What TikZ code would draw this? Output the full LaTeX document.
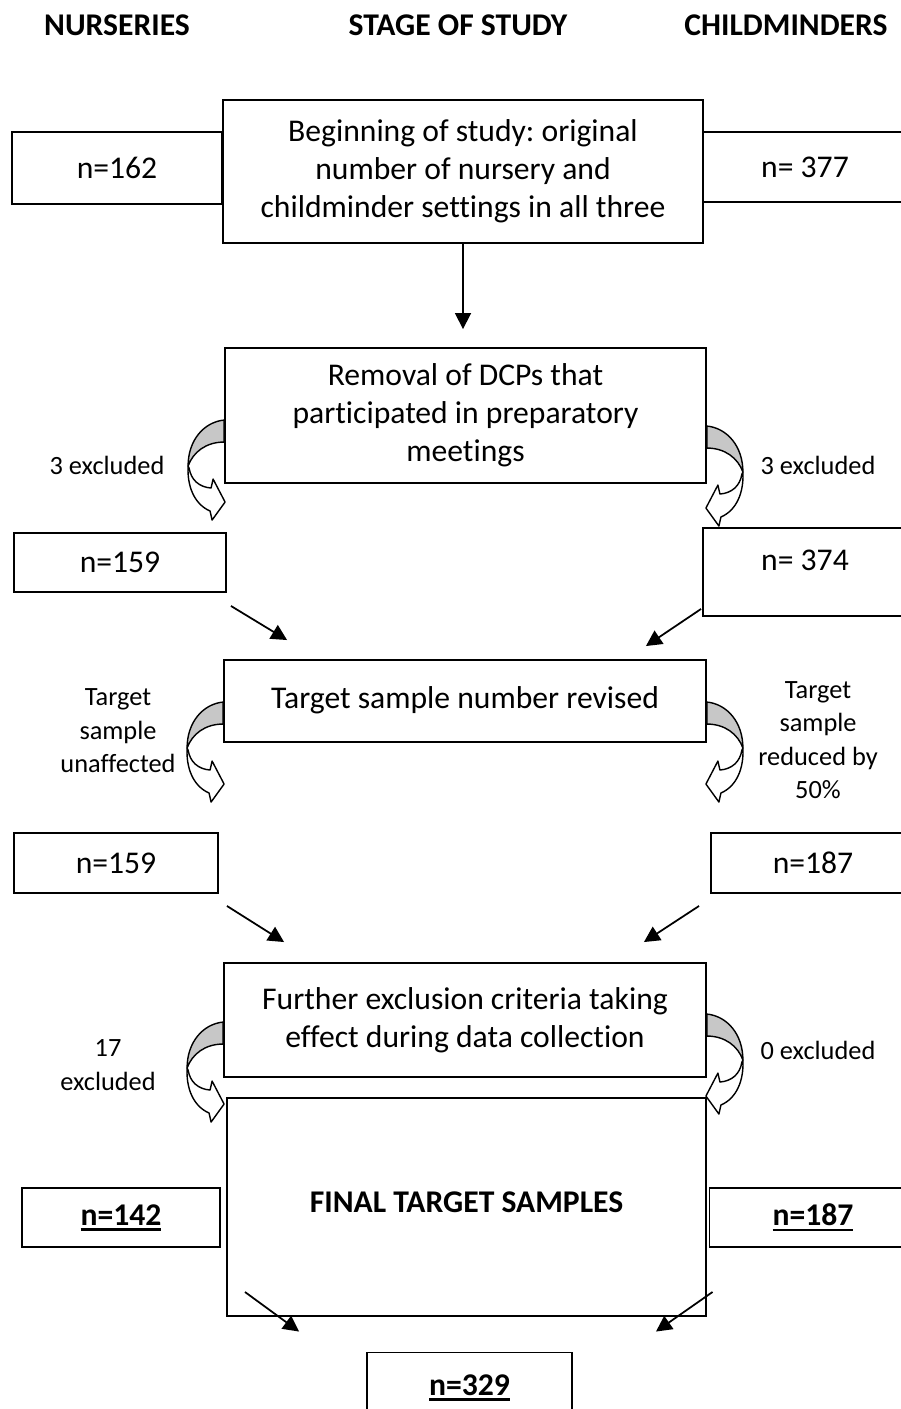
\documentclass[tikz,border=0pt]{standalone}
\usepackage{fontspec}
\setmainfont{Carlito}[Ligatures=NoCommon]
\frenchspacing
\usetikzlibrary{calc,positioning,arrows.meta}

\tikzset{
  box/.style={draw, line width=1.1pt, align=center, inner sep=0pt, font=\fontsize{18}{21.5}\selectfont},
  side/.style={align=center, font=\fontsize{15}{19}\selectfont},
  head/.style={font=\fontsize{18}{21.5}\selectfont\bfseries},
  arr/.style={line width=1pt, -{Triangle[length=9pt,width=9pt]}},
  bendline/.style={line width=0.8pt, line join=round},
}
\colorlet{bandgrey}{black!22}

\newcommand{\boldul}[1]{\textbf{\setbox0\hbox{#1}\rlap{\rule[-3pt]{\wd0}{1.3pt}}\box0}}

% curved exclusion arrow: #1 = point on the box edge, #2 = 1 (right) or -1 (left)
\newcommand{\bentarrow}[2]{%
  \begin{scope}[shift={(#1)}, xscale=#2]
    \draw[bendline, fill=white] (36,46) .. controls (37,66) and (30,84) .. (14,91)
      -- (12,100) -- (-1,82) -- (11,59) -- (13,68)
      .. controls (25,67) and (33,60) .. (35,48) -- cycle;
    \draw[bendline, fill=bandgrey] (0,0) .. controls (20,2) and (36,20) .. (36,46)
      .. controls (31,32) and (18,22) .. (0,22) -- cycle;
  \end{scope}}

\begin{document}
\begin{tikzpicture}[x=0.02cm, y=-0.02cm]
  \useasboundingbox (0,0) rectangle (901,1409);
  \clip (0,0) rectangle (901,1409);

  % column heads
  \node[head] (nurs)  at (117,25) {NURSERIES};
  \node[head] (stage) at (458,25) {STAGE OF STUDY};
  \node[head] (cmind) at (786,25) {CHILDMINDERS};

  % beginning
  \node[box, minimum width=9.6cm, minimum height=2.86cm] (begin) at (463,171.5)
    {Beginning of study: original\\number of nursery and\\childminder settings in all three};
  \node[box, minimum width=4.2cm, minimum height=1.44cm] (n162) at (117,168) {n=162};
  \node[box, minimum width=4.08cm, minimum height=1.4cm] (n377) at (805,167) {n= 377};

  % removal
  \node[box, minimum width=9.62cm, minimum height=2.7cm] (removal) at (465.5,415.5)
    {Removal of DCPs that\\participated in preparatory\\meetings};
  \draw[arr, shorten >=0.36cm] (begin.south) -- (begin.south |- removal.north);

  \coordinate (exL2) at ($(removal.north west)+(0,73)$);
  \coordinate (exR2) at ($(removal.north east)+(0,79)$);
  \bentarrow{exL2}{-1}
  \bentarrow{exR2}{1}
  \node[side] (lab2l) at (107,465) {3 excluded};
  \node[side] (lab2r) at (818,465) {3 excluded};

  \node[box, minimum width=4.24cm, minimum height=1.18cm] (n159a) at (120,562.5) {n=159};
  \node[box, minimum width=4.08cm, minimum height=1.76cm] (n374) at (805,572)
    {\raisebox{1pt}[0pt][0pt]{n= 374}};

  % revised
  \node[box, minimum width=9.64cm, minimum height=1.64cm] (revised) at (465,701)
    {\raisebox{4.5pt}{Target sample number revised}};
  \draw[arr] ($(n159a.south east)+(4,13)$) -- ($(revised.north west)+(64,-19)$);
  \draw[arr] ($(n374.south west)+(-1,-8)$) -- ($(revised.north east)+(-61,-13)$);

  \coordinate (exL3) at ($(revised.north west)+(0,43)$);
  \coordinate (exR3) at ($(revised.north east)+(0,43)$);
  \bentarrow{exL3}{-1}
  \bentarrow{exR3}{1}
  \node[side] (lab3l) at (118,731) {Target\\sample\\unaffected};
  \node[side] (lab3r) at (818,740) {Target\\sample\\reduced by\\50\%};

  \node[box, minimum width=4.08cm, minimum height=1.2cm] (n159b) at (116,863) {n=159};
  \node[box, minimum width=4.08cm, minimum height=1.2cm] (n187a) at (813,863) {n=187};

  % further exclusion
  \node[box, minimum width=9.64cm, minimum height=2.28cm] (further) at (465,1020)
    {Further exclusion criteria taking\\effect during data collection};
  \draw[arr] ($(n159b.south east)+(8,12)$) -- ($(further.north west)+(61,-20)$);
  \draw[arr] ($(n187a.south west)+(-11,12)$) -- ($(further.north east)+(-63,-20)$);

  \coordinate (exL4) at ($(further.north west)+(0,60)$);
  \coordinate (exR4) at ($(further.north east)+(0,52)$);
  \bentarrow{exL4}{-1}
  \bentarrow{exR4}{1}
  \node[side] (lab4l) at (108,1065) {17\\excluded};
  \node[side] (lab4r) at (818,1050) {0 excluded};

  % final samples
  \node[box, minimum width=9.58cm, minimum height=4.36cm] (final) at (466.5,1207)
    {\raisebox{5pt}{\textbf{FINAL TARGET SAMPLES}}};
  \node[box, minimum width=3.96cm, minimum height=1.18cm] (n142) at (121,1217.5) {\boldul{n=142}};
  \node[box, minimum width=4.14cm, minimum height=1.18cm] (n187b) at (813,1217.5) {\boldul{n=187}};

  \node[box, minimum width=4.1cm, minimum height=1.54cm] (n329) at (469.5,1391)
    {\raisebox{-2.5pt}[0pt][0pt]{\boldul{n=329}}};
  \draw[arr] ($(n142.south east)+(24,44)$) -- ($(n329.north west)+(-67,-20)$);
  \draw[arr] ($(n187b.south west)+(4,44)$) -- ($(n329.north east)+(83,-20)$);
\end{tikzpicture}
\end{document}
